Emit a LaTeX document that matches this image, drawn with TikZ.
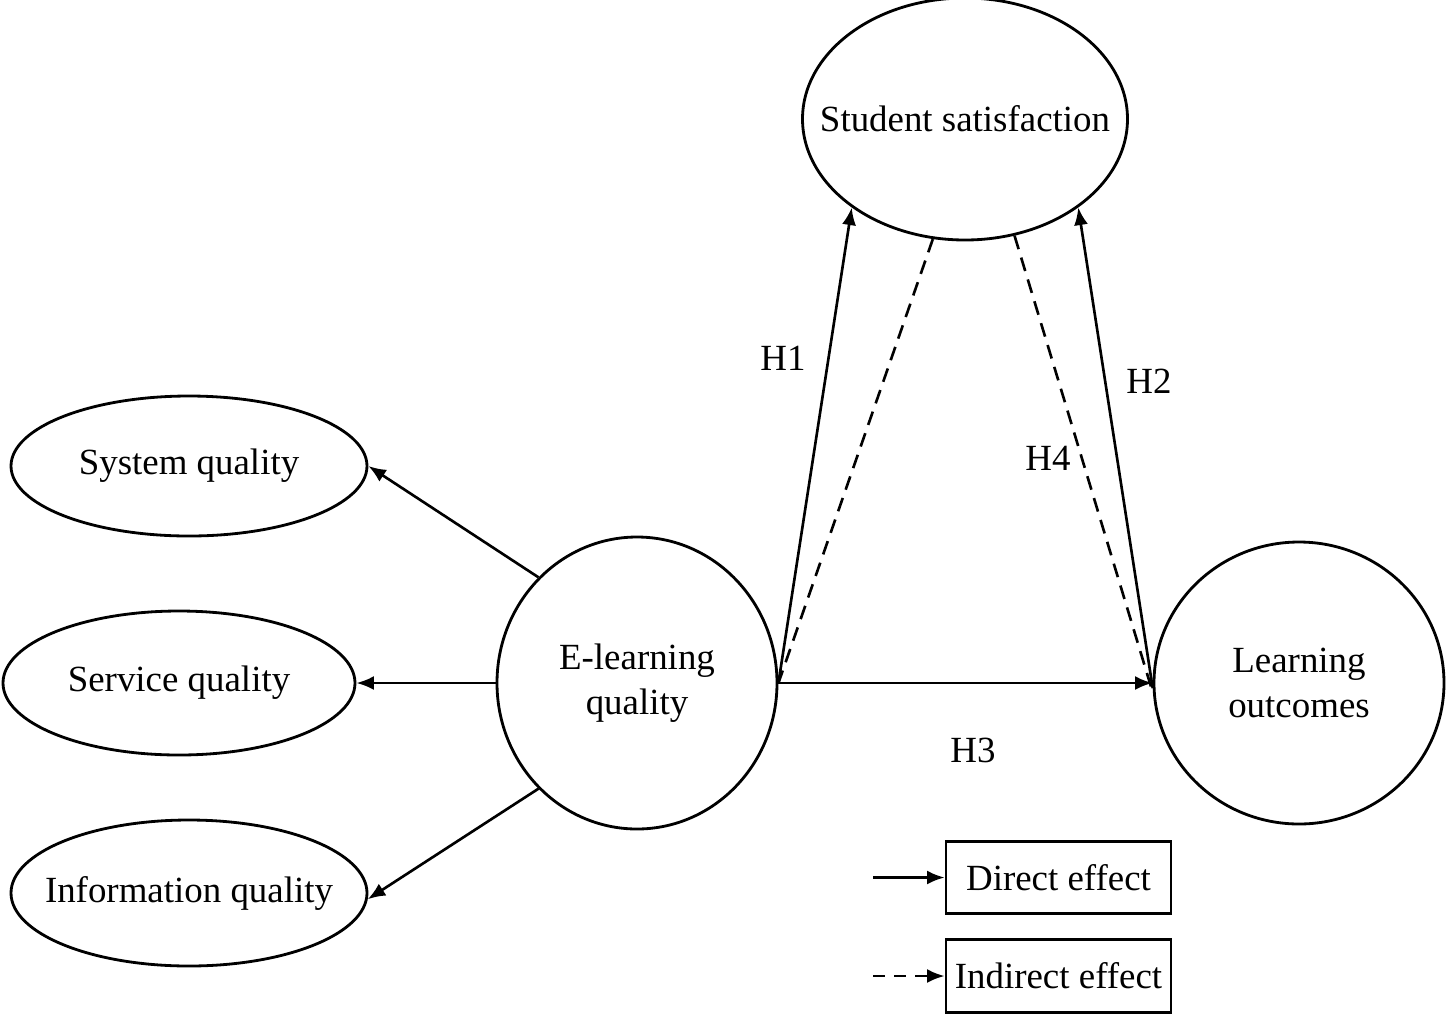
\documentclass[tikz,border=0pt]{standalone}
\usepackage{fontspec}
\setmainfont{Liberation Serif}
\usepackage{tikz}
\usetikzlibrary{shapes, arrows, arrows.meta}
\tikzstyle{line} = [draw, line width=1.5pt, -{Latex[length=10pt,width=8pt]}]
\tikzstyle{dline} = [draw, line width=1.5pt, dash pattern=on 8pt off 5pt]
\tikzstyle{factor} = [draw, ellipse, line width=1.6pt, inner xsep=-0.7cm, inner ysep=0pt, align=center]
\tikzstyle{block} = [draw, rectangle, line width=1.6pt, minimum width=4.5cm, minimum height=1.45cm]
\def\fsz{\fontsize{21}{25.6}\selectfont}

\begin{document}
\begin{tikzpicture}[font=\fsz]
		\useasboundingbox (0,0) rectangle (28.92,-20.28);
		\node[factor, minimum width=7.12cm, minimum height=2.8cm] (sys) at (3.78,-9.32) {System quality};
		\node[factor, minimum width=7.04cm, minimum height=2.88cm] (serv) at (3.58,-13.66) {Service quality};
		\node[factor, minimum width=7.12cm, minimum height=2.92cm] (info) at (3.78,-17.86) {Information quality};
		\node[factor, minimum width=5.6cm, minimum height=5.84cm] (elq) at (12.74,-13.66) {E-learning\\quality};
		\node[factor, minimum width=6.5cm, minimum height=4.84cm] (sat) at (19.3,-2.38) {Student satisfaction};
		\node[factor, minimum width=5.8cm, minimum height=5.64cm] (lo) at (25.98,-13.66) {Learning\\outcomes};
	%--------------------
		\draw[line] (elq.133) -- (sys.east);
		\draw[line] (elq.west) -- (serv.east);
		\draw[line] (elq.227) -- (info.358);
		\draw[line] (elq.east) -- (sat.218);
		\draw[line] (lo.182) -- (sat.322);
		\draw[line] (elq.east) -- (lo.west);
		\draw[dline] (sat.255) -- (elq.east);
		\draw[dline] (sat.293) -- (lo.184);
		\node (h1) at (15.66,-7.16) {H1};
		\node (h2) at (22.98,-7.62) {H2};
		\node (h3) at (19.46,-15.0) {H3};
		\node (h4) at (20.96,-9.16) {H4};
	%--------------------
		\node[block] (direct) at (21.17,-17.55) {Direct effect};
		\node[block] (indirect) at (21.17,-19.52) {Indirect effect};
		\coordinate (d0) at (17.46,-17.55);
		\coordinate (i0) at (17.46,-19.52);
		\draw[line] (d0) -- (direct.west);
		\draw[line, dash pattern=on 7pt off 5pt] (i0) -- (indirect.west);
	\end{tikzpicture}
\end{document}
